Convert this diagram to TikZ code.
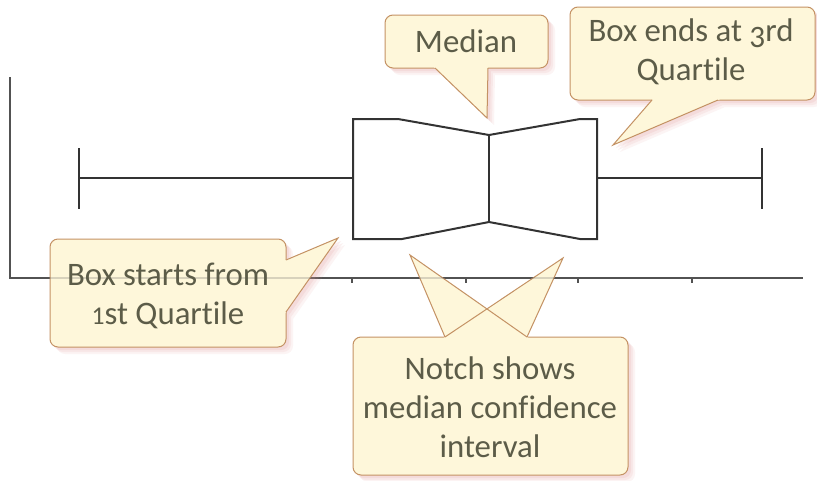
\documentclass[tikz,border=0pt]{standalone}
\usepackage{fontspec}
\usepackage{graphicx}
\setmainfont{Carlito}[Ligatures=NoCommon]
\usetikzlibrary{calc}
\definecolor{callfill}{HTML}{FEF7DA}
\definecolor{callborder}{HTML}{C49264}
\definecolor{callshadow}{HTML}{E49A9A}
\definecolor{calltext}{HTML}{5C5C48}
\definecolor{plotcol}{HTML}{333333}
\newcommand\osthree{\raisebox{-0.17em}{\scalebox{0.95}{3}}}
\newcommand\osone{\scalebox{0.78}{1}}
\newcommand\onecallout[5]{%
  \foreach \s/\o in {7/0.10,5/0.13,3/0.16}{
    \fill[callshadow, opacity=\o, shift={(\s,\s)}] {[rounded corners=8pt] #1 rectangle #2} #3 -- #5 -- #4 -- cycle;
  }
  \fill[callfill, rounded corners=8pt] #1 rectangle #2;
  \draw[callborder, line width=1pt, rounded corners=8pt] #1 rectangle #2;
  \fill[callfill] ($#5!1.06!#3$) -- #5 -- ($#5!1.06!#4$) -- cycle;
  \draw[callborder, line width=1pt, line join=miter] #3 -- #5 -- #4;
}
\begin{document}
\begin{tikzpicture}[x=1pt,y=-1pt,
  plotline/.style={draw=plotcol, line width=2pt},
  axisline/.style={draw=black!68, line width=1.8pt},
  lbl/.style={text=calltext, font=\fontsize{32.8}{39}\selectfont, align=center, inner sep=0pt}]
\useasboundingbox[fill=white] (0,0) rectangle (817,480);
% axes
\coordinate (ytop) at (10,77);
\coordinate (orig) at (10,278);
\coordinate (xend) at (803,278);
\draw[axisline] (ytop) -- (orig) -- (xend);
\foreach \x in {352,466,578,692}{\draw[axisline, line width=1.3pt] (\x,278) -- (\x,283);}
% box with notch
\coordinate (q1t) at (353,119); \coordinate (q1b) at (353,239);
\coordinate (q3t) at (597,119); \coordinate (q3b) at (597,239);
\coordinate (medt) at (489,135); \coordinate (medb) at (489,222);
\draw[plotline, line join=miter] (q1t) -- (398,119) -- (medt) -- (580,119) -- (q3t) -- (q3b) -- (580,239) -- (medb) -- (402,239) -- (q1b) -- cycle;
\draw[plotline] (medt) -- (medb);
% whiskers
\coordinate (wl) at (79,178); \coordinate (wr) at (762,178);
\draw[plotline] (wl) -- (353,178);
\draw[plotline] (79,148) -- (79,209);
\draw[plotline] (597,178) -- (wr);
\draw[plotline] (762,148) -- (762,209);
% callouts
\onecallout{(385,15)}{(548,68)}{(435,68)}{(488,68)}{(487,118)}
\onecallout{(570,7)}{(815,100)}{(652,100)}{(718,100)}{(613,145)}
\onecallout{(50,239)}{(286,347)}{(286,260)}{(286,312)}{(338,238)}
% notch callout with two pointers
\coordinate (nb1) at (445,337); \coordinate (nb2) at (527,337);
\coordinate (nt1) at (410,255); \coordinate (nt2) at (563,258);
\foreach \s/\o in {7/0.10,5/0.13,3/0.16}{
  \fill[callshadow, opacity=\o, shift={(\s,\s)}] {[rounded corners=8pt] (353,337) rectangle (628,475)} (nb1) -- (nt1) -- (nb2) -- cycle (nb1) -- (nt2) -- (nb2) -- cycle;
}
\fill[callfill, rounded corners=8pt] (353,337) rectangle (628,475);
\draw[callborder, line width=1pt, rounded corners=8pt] (353,337) rectangle (628,475);
\fill[callfill] ($(nt1)!1.06!(nb1)$) -- (nt1) -- ($(nt1)!1.06!(nb2)$) -- cycle;
\fill[callfill] ($(nt2)!1.06!(nb1)$) -- (nt2) -- ($(nt2)!1.06!(nb2)$) -- cycle;
\draw[callborder, line width=1pt, line join=miter] (nb1) -- (nt1) -- (nb2);
\draw[callborder, line width=1pt, line join=miter] (nb1) -- (nt2) -- (nb2);
% axis seen through callouts
\draw[axisline, draw opacity=0.22] (orig) -- (xend);
% labels
\node[lbl] (tmed) at (466,41) {Median};
\node[lbl] (tq3) at (691,52) {Box ends at \osthree rd\\Quartile};
\node[lbl] (tq1) at (168,296) {Box starts from\\\osone st Quartile};
\node[lbl] (tnotch) at (490,407) {Notch shows\\median confidence\\interval};
\end{tikzpicture}
\end{document}
